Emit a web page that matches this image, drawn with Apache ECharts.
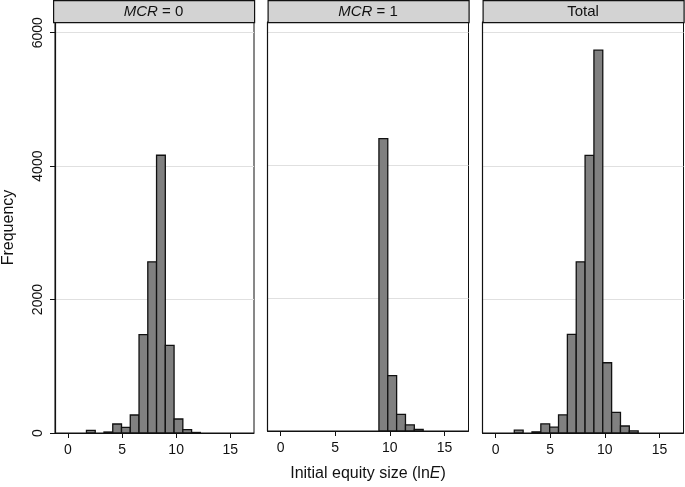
<!DOCTYPE html>
<html>
<head>
<meta charset="utf-8">
<script src="https://cdn.jsdelivr.net/npm/echarts@6/dist/echarts.min.js"></script>
<style>
html,body{margin:0;padding:0;background:#fff;}
#c{width:685px;height:487px;}
</style>
</head>
<body>
<div id="c"></div>
<script>
// Histogram bin edges (ln E)
var binEdges = [1.71, 2.52, 3.33, 4.14, 4.95, 5.76, 6.57, 7.38, 8.19, 9.00, 9.81, 10.62, 11.43, 12.24, 13.05];
// Frequencies per bin
var mcr0  = [40, 0, 15, 135, 85, 270, 1475, 2566, 4163, 1312, 210, 50, 8, 0];
var mcr1  = [0, 0, 0, 0, 0, 0, 0, 0, 0, 4404, 833, 249, 92, 25];
var total = [42, 0, 17, 137, 87, 272, 1477, 2566, 4162, 5737, 1053, 309, 105, 32];
var panelTitles = [['MCR', ' = 0'], ['MCR', ' = 1'], ['', 'Total']];
var xTicks = [0, 5, 10, 15];
var yTicks = [0, 2000, 4000, 6000];

var FONT = 'Liberation Sans, Arial, sans-serif';
var panels = [
  {left: 53, series: mcr0},
  {left: 267.5, series: mcr1},
  {left: 482.5, series: total}
];
var PW = 201, TOP = 22, BOTTOM = 54;

function toData(vals) {
  var out = [];
  for (var i = 0; i < vals.length; i++) {
    if (vals[i] > 0) out.push([binEdges[i], binEdges[i + 1], vals[i]]);
  }
  return out;
}

var grids = [], xAxes = [], yAxes = [], series = [], graphics = [];
panels.forEach(function (p, i) {
  grids.push({left: p.left, width: PW, top: TOP, bottom: BOTTOM, show: true,
    borderColor: '#111', borderWidth: 1, backgroundColor: '#fff', containLabel: false});
  xAxes.push({
    type: 'value', gridIndex: i, min: -1.2, max: 17.2,
    axisLine: {show: true, onZero: false, lineStyle: {color: '#111', width: 1}},
    axisTick: {show: true, length: 5, customValues: xTicks, lineStyle: {color: '#111'}},
    axisLabel: {show: true, customValues: xTicks, margin: 10, color: '#111', fontSize: 14, fontFamily: FONT,
      formatter: function (v) { return String(v); }},
    splitLine: {show: false},
    name: i === 1 ? '{a|Initial equity size (ln}{b|E}{a|)}' : '',
    nameLocation: 'middle', nameGap: 35,
    nameTextStyle: {rich: {
      a: {fontSize: 16, fontFamily: FONT, color: '#111'},
      b: {fontSize: 16, fontFamily: FONT, color: '#111', fontStyle: 'italic'}
    }}
  });
  yAxes.push({
    type: 'value', gridIndex: i, min: 0, max: 6160, interval: 2000,
    axisLine: {show: true, onZero: false, lineStyle: {color: '#111', width: 1.2}},
    axisTick: {show: i === 0, length: 5, customValues: yTicks, lineStyle: {color: '#111'}},
    axisLabel: {show: i === 0, customValues: yTicks, rotate: 90, margin: 10, color: '#111', fontSize: 14, fontFamily: FONT,
      formatter: function (v) { return String(v); }},
    splitLine: {show: true, lineStyle: {color: '#e0e0e0', width: 1.2}},
    name: i === 0 ? 'Frequency' : '',
    nameLocation: 'middle', nameGap: 38,
    nameTextStyle: {fontSize: 16, fontFamily: FONT, color: '#111'}
  });
  series.push({
    type: 'custom', xAxisIndex: i, yAxisIndex: i,
    data: toData(p.series),
    renderItem: function (params, api) {
      var p0 = api.coord([api.value(0), 0]);
      var p1 = api.coord([api.value(1), api.value(2)]);
      return {type: 'rect',
        shape: {x: p0[0], y: p1[1], width: p1[0] - p0[0], height: p0[1] - p1[1]},
        style: {fill: '#808080', stroke: '#111', lineWidth: 1.3}};
    }
  });
  graphics.push({type: 'rect', left: p.left, top: 0,
    shape: {width: PW, height: TOP},
    style: {fill: '#d3d3d3', stroke: '#111', lineWidth: 1.2}, z: 10});
  var t = panelTitles[i];
  graphics.push({type: 'text', x: p.left + PW / 2, y: TOP / 2 + 1, z: 11,
    style: {
      text: (t[0] ? '{i|' + t[0] + '}' : '') + '{n|' + t[1] + '}',
      align: 'center', verticalAlign: 'middle',
      rich: {
        i: {fontSize: 15, fontFamily: FONT, fontStyle: 'italic', fill: '#111'},
        n: {fontSize: 15, fontFamily: FONT, fill: '#111'}
      }
    }});
});

var chart = echarts.init(document.getElementById('c'), null, {renderer: 'canvas'});
chart.setOption({
  animation: false,
  backgroundColor: '#fff',
  grid: grids, xAxis: xAxes, yAxis: yAxes, series: series, graphic: graphics
});
</script>
</body>
</html>
